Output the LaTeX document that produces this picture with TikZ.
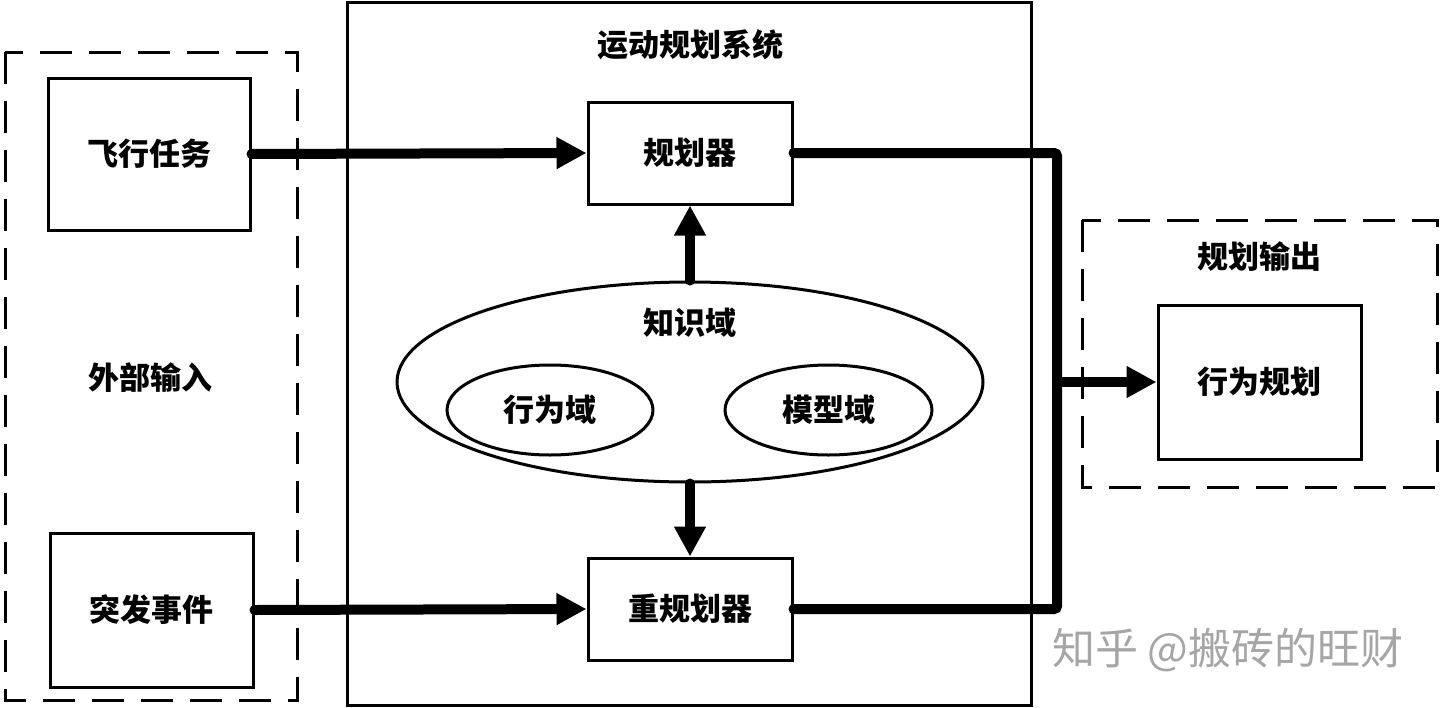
\documentclass[tikz,border=0pt]{standalone}
\usepackage{fontspec}
\setmainfont{Noto Sans CJK SC}
\usetikzlibrary{shapes.geometric,arrows.meta,calc}
\begin{document}
\begin{tikzpicture}[x=1pt,y=-1pt,
  box/.style={draw,line width=3pt,rectangle,inner sep=0pt,font=\fontsize{31}{34}\selectfont\bfseries},
  dbox/.style={draw,line width=3pt,dash pattern=on 32pt off 17pt},
  oval/.style={draw,line width=3pt,ellipse,inner sep=0pt,font=\fontsize{31}{34}\selectfont\bfseries},
  lbl/.style={inner sep=0pt,font=\fontsize{31}{34}\selectfont\bfseries},
  flow/.style={line width=10pt,line cap=round,-{Triangle[length=30pt,width=30pt]}},
  thick line/.style={line width=10pt,line cap=round,rounded corners=3pt}]
\useasboundingbox (0,0) rectangle (1440,707);
\fill[white] (0,0) rectangle (1440,707);
% external input
\draw[dbox] (5,52) rectangle (297,700);
\node[box,minimum width=202pt,minimum height=152pt] (task) at (149,154) {飞行任务};
\node[box,minimum width=203pt,minimum height=154pt] (event) at (151.5,610) {突发事件};
\node[lbl] (ext) at (150,378) {外部输入};
% system
\node[draw,line width=3pt,rectangle,inner sep=0pt,minimum width=684pt,minimum height=703pt] (sys) at (689,353.5) {};
\node[lbl] (systitle) at (690,45) {运动规划系统};
\node[box,minimum width=204pt,minimum height=102pt] (plan) at (690,153) {规划器};
\node[box,minimum width=204pt,minimum height=102pt] (replan) at (690,609) {重规划器};
\node[oval,minimum width=586pt,minimum height=200pt] (know) at (690,382) {};
\node[lbl] (knowlbl) at (690,323) {知识域};
\node[oval,minimum width=206pt,minimum height=90pt] (beh) at (550,410) {行为域};
\node[oval,minimum width=207pt,minimum height=90pt] (model) at (828.5,410) {模型域};
% output
\draw[dbox] (1082,220) rectangle (1437,487);
\node[lbl] (outtitle) at (1259,257) {规划输出};
\node[box,minimum width=203pt,minimum height=154pt] (out) at (1259.5,382) {行为规划};
% connectors
\draw[flow] (task.east) -- (plan.west);
\draw[flow] (event.east) -- (replan.west);
\draw[flow] (know.north) -- (plan.south);
\draw[flow] (know.south) -- (replan.south |- replan.north);
\coordinate (jt) at (1057,153);
\coordinate (jb) at (1057,609);
\draw[thick line] (plan.east) -- (jt) -- (jb) -- (replan.east);
\coordinate (jm) at (jt |- out.west);
\draw[flow,line cap=butt] (jm) -- (out.west);
% watermark
\node[inner sep=0pt,text=black!35,font=\fontsize{43}{46}\selectfont,anchor=west] (wm) at (1052,650) {知乎 @搬砖的旺财};
\end{tikzpicture}
\end{document}
